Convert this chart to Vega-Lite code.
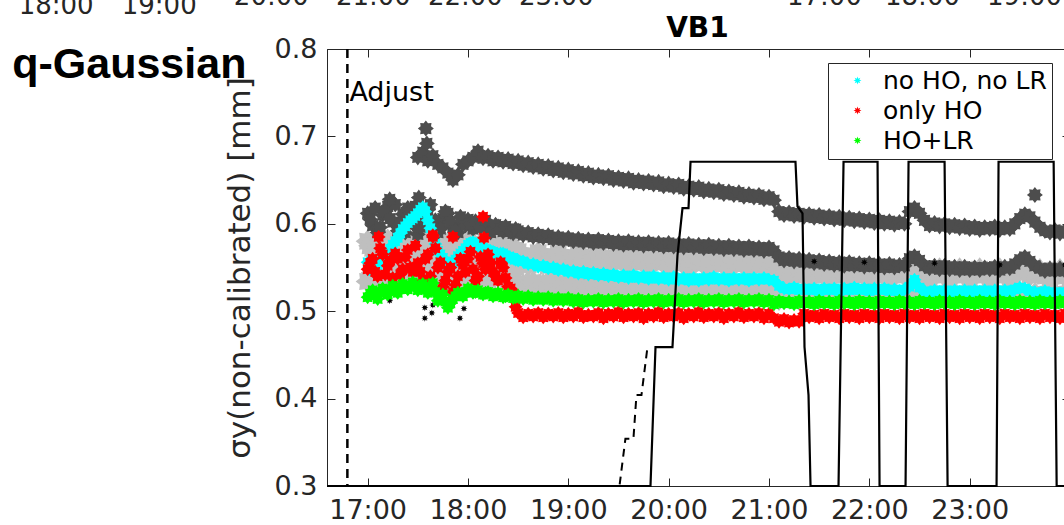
{
 "$schema": "https://vega.github.io/schema/vega-lite/v6.json",
 "width": 743,
 "height": 437,
 "autosize": {"type": "none"},
 "padding": {"left": 327, "top": 49, "right": 0, "bottom": 39},
 "background": "white",
 "config": {"view": {"stroke": "#262626", "strokeWidth": 1}, "axis": {"grid": false}},
 "datasets": {
  "pts": [
   {"t":17.00,"a1":0.580,"a2":0.534,"b2":0.612,"s1":0.556,"s2":0.548,"s3":0.516},
   {"t":17.05,"a1":0.572,"a2":0.544,"b2":0.598,"s1":0.546,"s2":0.560,"s3":0.524},
   {"t":17.10,"a1":0.563,"a2":0.540,"b2":0.590,"s1":0.553,"s2":0.540,"s3":0.514},
   {"t":17.15,"a1":0.577,"a2":0.547,"b2":0.610,"s1":0.561,"s2":0.565,"s3":0.526},
   {"t":17.20,"a1":0.581,"a2":0.534,"b2":0.620,"s1":0.567,"s2":0.552,"s3":0.519},
   {"t":17.25,"a1":0.571,"a2":0.544,"b2":0.602,"s1":0.576,"s2":0.538,"s3":0.529},
   {"t":17.30,"a1":0.565,"a2":0.540,"b2":0.592,"s1":0.584,"s2":0.560,"s3":0.521},
   {"t":17.35,"a1":0.575,"a2":0.547,"b2":0.611,"s1":0.594,"s2":0.548,"s3":0.531},
   {"t":17.40,"a1":0.579,"a2":0.534,"b2":0.618,"s1":0.601,"s2":0.570,"s3":0.525},
   {"t":17.45,"a1":0.570,"a2":0.544,"b2":0.600,"s1":0.606,"s2":0.545,"s3":0.533},
   {"t":17.50,"a1":0.563,"a2":0.540,"b1":0.676,"b2":0.588,"s1":0.612,"s2":0.555,"s3":0.524},
   {"t":17.55,"a1":0.576,"a2":0.547,"b1":0.682,"b2":0.608,"s1":0.619,"s2":0.535,"s3":0.531},
   {"t":17.60,"a1":0.580,"a2":0.534,"b1":0.672,"b2":0.616,"s1":0.604,"s2":0.565,"s3":0.521},
   {"t":17.65,"a1":0.571,"a2":0.544,"b1":0.678,"b2":0.598,"s1":0.586,"s2":0.585,"s3":0.532},
   {"t":17.70,"a1":0.564,"a2":0.540,"b1":0.668,"b2":0.590,"s1":0.569,"s2":0.550,"s3":0.512},
   {"t":17.75,"a1":0.574,"a2":0.547,"b1":0.664,"b2":0.606,"s1":0.561,"s2":0.528,"s3":0.519},
   {"t":17.80,"a1":0.578,"a2":0.534,"b1":0.658,"b2":0.612,"s1":0.553,"s2":0.545,"s3":0.504},
   {"t":17.85,"a1":0.569,"a2":0.544,"b1":0.650,"b2":0.596,"s1":0.556,"s2":0.522,"s3":0.514},
   {"t":17.90,"a1":0.562,"a2":0.540,"b1":0.656,"b2":0.590,"s1":0.563,"s2":0.540,"s3":0.521},
   {"t":17.95,"a1":0.575,"a2":0.547,"b1":0.668,"b2":0.602,"s1":0.569,"s2":0.553,"s3":0.517},
   {"t":18.00,"a1":0.579,"a2":0.534,"b1":0.672,"b2":0.605,"s1":0.576,"s2":0.560,"s3":0.526},
   {"t":18.05,"a1":0.570,"a2":0.544,"b1":0.676,"b2":0.594,"s1":0.579,"s2":0.548,"s3":0.521},
   {"t":18.10,"a1":0.563,"a2":0.540,"b1":0.683,"b2":0.598,"s1":0.575,"s2":0.540,"s3":0.524},
   {"t":18.15,"a1":0.574,"a2":0.547,"b1":0.675,"b2":0.601,"s1":0.573,"s2":0.555,"s3":0.519},
   {"t":18.20,"a1":0.577,"a2":0.534,"b1":0.678,"b2":0.596,"s1":0.569,"s2":0.565,"s3":0.522},
   {"t":18.25,"a1":0.568,"a2":0.544,"b1":0.672,"b2":0.593,"s1":0.568,"s2":0.545,"s3":0.517},
   {"t":18.30,"a1":0.561,"a2":0.540,"b1":0.676,"b2":0.597,"s1":0.565,"s2":0.535,"s3":0.521},
   {"t":18.35,"a1":0.572,"a2":0.547,"b1":0.671,"b2":0.591,"s1":0.566,"s2":0.550,"s3":0.516},
   {"t":18.40,"a1":0.575,"a2":0.534,"b1":0.674,"b2":0.594,"s1":0.562,"s2":0.528,"s3":0.519},
   {"t":18.45,"a1":0.566,"a2":0.544,"b1":0.669,"b2":0.589,"s1":0.561,"s2":0.520,"s3":0.515},
   {"t":17.025,"a1":0.575,"b2":0.605,"s1":0.550,"s2":0.555,"s3":0.520},
   {"t":17.075,"a1":0.568,"b2":0.618,"s1":0.549,"s2":0.545,"s3":0.519},
   {"t":17.125,"a1":0.579,"b2":0.596,"s1":0.557,"s2":0.572,"s3":0.521},
   {"t":17.175,"a1":0.566,"b2":0.614,"s1":0.563,"s2":0.542,"s3":0.522},
   {"t":17.225,"a1":0.576,"b2":0.606,"s1":0.571,"s2":0.558,"s3":0.524},
   {"t":17.275,"a1":0.569,"b2":0.622,"s1":0.580,"s2":0.566,"s3":0.525},
   {"t":17.325,"a1":0.578,"b2":0.600,"s1":0.589,"s2":0.542,"s3":0.526},
   {"t":17.375,"a1":0.566,"b2":0.590,"s1":0.597,"s2":0.562,"s3":0.528},
   {"t":17.425,"a1":0.574,"b2":0.612,"s1":0.604,"s2":0.550,"s3":0.529},
   {"t":17.475,"a1":0.580,"b2":0.620,"s1":0.609,"s2":0.575,"s3":0.528},
   {"t":17.525,"a1":0.568,"b2":0.596,"s1":0.616,"s2":0.545,"s3":0.527},
   {"t":17.575,"a1":0.573,"b2":0.604,"s1":0.614,"s2":0.560,"s3":0.526},
   {"t":17.625,"a1":0.566,"b2":0.622,"s1":0.595,"s2":0.540,"s3":0.527},
   {"t":17.675,"a1":0.577,"b2":0.604,"s1":0.577,"s2":0.572,"s3":0.522},
   {"t":17.725,"a1":0.569,"b2":0.594,"s1":0.565,"s2":0.556,"s3":0.515},
   {"t":17.775,"a1":0.575,"b2":0.614,"s1":0.557,"s2":0.535,"s3":0.511},
   {"t":17.825,"a1":0.565,"b2":0.602,"s1":0.554,"s2":0.550,"s3":0.509},
   {"t":17.875,"a1":0.576,"b2":0.592,"s1":0.559,"s2":0.530,"s3":0.517},
   {"t":17.925,"a1":0.570,"b2":0.608,"s1":0.566,"s2":0.560,"s3":0.519},
   {"t":17.975,"a1":0.566,"b2":0.598,"s1":0.572,"s2":0.545,"s3":0.522},
   {"t":18.025,"a1":0.575,"b2":0.600,"s1":0.578,"s2":0.568,"s3":0.524},
   {"t":18.075,"a1":0.568,"b2":0.603,"s1":0.577,"s2":0.535,"s3":0.522},
   {"t":18.125,"a1":0.577,"b2":0.596,"s1":0.574,"s2":0.562,"s3":0.521},
   {"t":18.175,"a1":0.571,"b2":0.604,"s1":0.571,"s2":0.548,"s3":0.521},
   {"t":18.225,"a1":0.566,"b2":0.590,"s1":0.569,"s2":0.555,"s3":0.520},
   {"t":18.275,"a1":0.574,"b2":0.599,"s1":0.566,"s2":0.540,"s3":0.519},
   {"t":18.325,"a1":0.569,"b2":0.594,"s1":0.566,"s2":0.556,"s3":0.518},
   {"t":18.375,"a1":0.576,"b2":0.597,"s1":0.564,"s2":0.538,"s3":0.517},
   {"t":18.425,"a1":0.567,"b2":0.591,"s1":0.561,"s2":0.526,"s3":0.517},
   {"t":18.475,"a1":0.570,"b2":0.594,"s1":0.559,"s2":0.505,"s3":0.516},
   {"t":18.50,"a1":0.568,"a2":0.522,"b1":0.672,"b2":0.592,"s1":0.558,"s2":0.498,"s3":0.518},
   {"t":18.55,"a1":0.560,"a2":0.530,"b1":0.667,"b2":0.587,"s1":0.557,"s2":0.493,"s3":0.514},
   {"t":18.60,"a1":0.553,"a2":0.527,"b1":0.670,"b2":0.590,"s1":0.554,"s2":0.497,"s3":0.517},
   {"t":18.65,"a1":0.564,"a2":0.533,"b1":0.665,"b2":0.585,"s1":0.554,"s2":0.494,"s3":0.513},
   {"t":18.70,"a1":0.567,"a2":0.522,"b1":0.668,"b2":0.588,"s1":0.551,"s2":0.498,"s3":0.516},
   {"t":18.75,"a1":0.559,"a2":0.530,"b1":0.663,"b2":0.584,"s1":0.552,"s2":0.493,"s3":0.513},
   {"t":18.80,"a1":0.552,"a2":0.527,"b1":0.666,"b2":0.587,"s1":0.549,"s2":0.497,"s3":0.516},
   {"t":18.85,"a1":0.563,"a2":0.533,"b1":0.661,"b2":0.582,"s1":0.550,"s2":0.494,"s3":0.512},
   {"t":18.90,"a1":0.566,"a2":0.522,"b1":0.664,"b2":0.585,"s1":0.547,"s2":0.498,"s3":0.515},
   {"t":18.95,"a1":0.558,"a2":0.530,"b1":0.659,"b2":0.581,"s1":0.548,"s2":0.493,"s3":0.512},
   {"t":19.00,"a1":0.551,"a2":0.527,"b1":0.662,"b2":0.584,"s1":0.545,"s2":0.497,"s3":0.515},
   {"t":19.05,"a1":0.562,"a2":0.533,"b1":0.657,"b2":0.580,"s1":0.546,"s2":0.494,"s3":0.511},
   {"t":19.10,"a1":0.566,"a2":0.522,"b1":0.660,"b2":0.583,"s1":0.543,"s2":0.499,"s3":0.514},
   {"t":19.15,"a1":0.558,"a2":0.530,"b1":0.655,"b2":0.579,"s1":0.545,"s2":0.493,"s3":0.510},
   {"t":19.20,"a1":0.551,"a2":0.527,"b1":0.658,"b2":0.582,"s1":0.542,"s2":0.496,"s3":0.513},
   {"t":19.25,"a1":0.562,"a2":0.533,"b1":0.653,"b2":0.578,"s1":0.544,"s2":0.494,"s3":0.511},
   {"t":19.30,"a1":0.565,"a2":0.522,"b1":0.656,"b2":0.582,"s1":0.541,"s2":0.498,"s3":0.514},
   {"t":19.35,"a1":0.557,"a2":0.530,"b1":0.652,"b2":0.578,"s1":0.543,"s2":0.492,"s3":0.510},
   {"t":19.40,"a1":0.550,"a2":0.527,"b1":0.655,"b2":0.581,"s1":0.540,"s2":0.497,"s3":0.513},
   {"t":19.45,"a1":0.561,"a2":0.533,"b1":0.650,"b2":0.577,"s1":0.542,"s2":0.494,"s3":0.511},
   {"t":19.50,"a1":0.565,"a2":0.522,"b1":0.653,"b2":0.580,"s1":0.539,"s2":0.499,"s3":0.514},
   {"t":19.55,"a1":0.557,"a2":0.530,"b1":0.649,"b2":0.576,"s1":0.541,"s2":0.493,"s3":0.510},
   {"t":19.60,"a1":0.550,"a2":0.527,"b1":0.652,"b2":0.580,"s1":0.538,"s2":0.497,"s3":0.513},
   {"t":19.65,"a1":0.561,"a2":0.533,"b1":0.647,"b2":0.576,"s1":0.541,"s2":0.494,"s3":0.511},
   {"t":19.70,"a1":0.564,"a2":0.522,"b1":0.650,"b2":0.579,"s1":0.538,"s2":0.498,"s3":0.514},
   {"t":19.75,"a1":0.556,"a2":0.530,"b1":0.646,"b2":0.575,"s1":0.540,"s2":0.492,"s3":0.510},
   {"t":19.80,"a1":0.549,"a2":0.527,"b1":0.649,"b2":0.579,"s1":0.537,"s2":0.497,"s3":0.513},
   {"t":19.85,"a1":0.560,"a2":0.533,"b1":0.645,"b2":0.575,"s1":0.540,"s2":0.494,"s3":0.511},
   {"t":19.90,"a1":0.564,"a2":0.522,"b1":0.648,"b2":0.578,"s1":0.537,"s2":0.499,"s3":0.514},
   {"t":19.95,"a1":0.556,"a2":0.530,"b1":0.643,"b2":0.574,"s1":0.539,"s2":0.493,"s3":0.510},
   {"t":20.00,"a1":0.549,"a2":0.527,"b1":0.646,"b2":0.578,"s1":0.536,"s2":0.497,"s3":0.513},
   {"t":20.05,"a1":0.560,"a2":0.533,"b1":0.642,"b2":0.574,"s1":0.539,"s2":0.494,"s3":0.511},
   {"t":20.10,"a1":0.563,"a2":0.522,"b1":0.645,"b2":0.577,"s1":0.536,"s2":0.498,"s3":0.514},
   {"t":20.15,"a1":0.555,"a2":0.530,"b1":0.640,"b2":0.573,"s1":0.538,"s2":0.492,"s3":0.510},
   {"t":20.20,"a1":0.548,"a2":0.527,"b1":0.643,"b2":0.577,"s1":0.535,"s2":0.497,"s3":0.513},
   {"t":20.25,"a1":0.559,"a2":0.533,"b1":0.639,"b2":0.573,"s1":0.538,"s2":0.494,"s3":0.511},
   {"t":20.30,"a1":0.563,"a2":0.522,"b1":0.642,"b2":0.576,"s1":0.535,"s2":0.499,"s3":0.514},
   {"t":20.35,"a1":0.555,"a2":0.530,"b1":0.637,"b2":0.572,"s1":0.538,"s2":0.493,"s3":0.510},
   {"t":20.40,"a1":0.548,"a2":0.527,"b1":0.640,"b2":0.576,"s1":0.536,"s2":0.497,"s3":0.513},
   {"t":20.45,"a1":0.559,"a2":0.533,"b1":0.636,"b2":0.572,"s1":0.539,"s2":0.494,"s3":0.511},
   {"t":20.50,"a1":0.562,"a2":0.522,"b1":0.639,"b2":0.575,"s1":0.536,"s2":0.498,"s3":0.514},
   {"t":20.55,"a1":0.554,"a2":0.530,"b1":0.634,"b2":0.571,"s1":0.538,"s2":0.492,"s3":0.510},
   {"t":20.60,"a1":0.547,"a2":0.527,"b1":0.637,"b2":0.575,"s1":0.535,"s2":0.497,"s3":0.513},
   {"t":20.65,"a1":0.558,"a2":0.533,"b1":0.633,"b2":0.571,"s1":0.538,"s2":0.494,"s3":0.511},
   {"t":20.70,"a1":0.562,"a2":0.522,"b1":0.636,"b2":0.574,"s1":0.536,"s2":0.499,"s3":0.514},
   {"t":20.75,"a1":0.554,"a2":0.530,"b1":0.631,"b2":0.570,"s1":0.538,"s2":0.493,"s3":0.510},
   {"t":20.80,"a1":0.547,"a2":0.527,"b1":0.634,"b2":0.574,"s1":0.535,"s2":0.497,"s3":0.513},
   {"t":20.85,"a1":0.558,"a2":0.533,"b1":0.630,"b2":0.570,"s1":0.538,"s2":0.494,"s3":0.511},
   {"t":20.90,"a1":0.561,"a2":0.522,"b1":0.633,"b2":0.573,"s1":0.536,"s2":0.498,"s3":0.514},
   {"t":20.95,"a1":0.553,"a2":0.530,"b1":0.628,"b2":0.569,"s1":0.538,"s2":0.492,"s3":0.510},
   {"t":21.00,"a1":0.546,"a2":0.527,"b1":0.631,"b2":0.573,"s1":0.536,"s2":0.497,"s3":0.513},
   {"t":21.05,"a1":0.557,"a2":0.533,"b1":0.627,"b2":0.569,"s1":0.535,"s2":0.492,"s3":0.508},
   {"t":21.10,"a1":0.548,"a2":0.514,"b1":0.614,"b2":0.562,"s1":0.529,"s2":0.488,"s3":0.512},
   {"t":21.15,"a1":0.541,"a2":0.519,"b1":0.610,"b2":0.558,"s1":0.526,"s2":0.491,"s3":0.509},
   {"t":21.20,"a1":0.535,"a2":0.516,"b1":0.613,"b2":0.561,"s1":0.525,"s2":0.487,"s3":0.511},
   {"t":21.25,"a1":0.545,"a2":0.520,"b1":0.609,"b2":0.557,"s1":0.527,"s2":0.490,"s3":0.508},
   {"t":21.30,"a1":0.548,"a2":0.514,"b1":0.612,"b2":0.560,"s1":0.524,"s2":0.488,"s3":0.512},
   {"t":21.35,"a1":0.541,"a2":0.519,"b1":0.608,"b2":0.556,"s1":0.526,"s2":0.497,"s3":0.509},
   {"t":21.40,"a1":0.535,"a2":0.516,"b1":0.611,"b2":0.559,"s1":0.524,"s2":0.493,"s3":0.511},
   {"t":21.45,"a1":0.545,"a2":0.520,"b1":0.607,"b2":0.555,"s1":0.526,"s2":0.496,"s3":0.508},
   {"t":21.50,"a1":0.548,"a2":0.514,"b1":0.610,"b2":0.558,"s1":0.523,"s2":0.492,"s3":0.512},
   {"t":21.55,"a1":0.541,"a2":0.519,"b1":0.606,"b2":0.554,"s1":0.526,"s2":0.497,"s3":0.509},
   {"t":21.60,"a1":0.535,"a2":0.516,"b1":0.609,"b2":0.557,"s1":0.524,"s2":0.493,"s3":0.511},
   {"t":21.65,"a1":0.545,"a2":0.520,"b1":0.605,"b2":0.553,"s1":0.526,"s2":0.496,"s3":0.508},
   {"t":21.70,"a1":0.548,"a2":0.514,"b1":0.608,"b2":0.556,"s1":0.523,"s2":0.492,"s3":0.512},
   {"t":21.75,"a1":0.541,"a2":0.519,"b1":0.604,"b2":0.552,"s1":0.526,"s2":0.497,"s3":0.509},
   {"t":21.80,"a1":0.535,"a2":0.516,"b1":0.607,"b2":0.556,"s1":0.524,"s2":0.493,"s3":0.511},
   {"t":21.85,"a1":0.545,"a2":0.520,"b1":0.603,"b2":0.552,"s1":0.527,"s2":0.496,"s3":0.508},
   {"t":21.90,"a1":0.548,"a2":0.514,"b1":0.606,"b2":0.555,"s1":0.524,"s2":0.492,"s3":0.512},
   {"t":21.95,"a1":0.541,"a2":0.519,"b1":0.602,"b2":0.551,"s1":0.526,"s2":0.497,"s3":0.509},
   {"t":22.00,"a1":0.535,"a2":0.516,"b1":0.605,"b2":0.555,"s1":0.523,"s2":0.493,"s3":0.511},
   {"t":22.05,"a1":0.545,"a2":0.520,"b1":0.601,"b2":0.551,"s1":0.526,"s2":0.496,"s3":0.508},
   {"t":22.10,"a1":0.548,"a2":0.514,"b1":0.604,"b2":0.554,"s1":0.524,"s2":0.492,"s3":0.512},
   {"t":22.15,"a1":0.541,"a2":0.519,"b1":0.600,"b2":0.550,"s1":0.526,"s2":0.497,"s3":0.509},
   {"t":22.20,"a1":0.535,"a2":0.516,"b1":0.603,"b2":0.554,"s1":0.523,"s2":0.493,"s3":0.511},
   {"t":22.25,"a1":0.545,"a2":0.520,"b1":0.599,"b2":0.550,"s1":0.525,"s2":0.496,"s3":0.508},
   {"t":22.30,"a1":0.548,"a2":0.514,"b1":0.602,"b2":0.553,"s1":0.523,"s2":0.492,"s3":0.512},
   {"t":22.35,"a1":0.541,"a2":0.519,"b1":0.600,"b2":0.552,"s1":0.525,"s2":0.497,"s3":0.509},
   {"t":22.40,"a1":0.547,"a2":0.516,"b1":0.614,"b2":0.560,"s1":0.528,"s2":0.493,"s3":0.511},
   {"t":22.45,"a1":0.550,"a2":0.520,"b1":0.618,"b2":0.563,"s1":0.536,"s2":0.496,"s3":0.508},
   {"t":22.50,"a1":0.548,"a2":0.514,"b1":0.612,"b2":0.558,"s1":0.527,"s2":0.492,"s3":0.512},
   {"t":22.55,"a1":0.541,"a2":0.519,"b1":0.604,"b2":0.552,"s1":0.523,"s2":0.497,"s3":0.509},
   {"t":22.60,"a1":0.535,"a2":0.516,"b1":0.598,"b2":0.549,"s1":0.521,"s2":0.493,"s3":0.511},
   {"t":22.65,"a1":0.545,"a2":0.520,"b1":0.601,"b2":0.552,"s1":0.524,"s2":0.496,"s3":0.508},
   {"t":22.70,"a1":0.548,"a2":0.514,"b1":0.597,"b2":0.548,"s1":0.522,"s2":0.492,"s3":0.512},
   {"t":22.75,"a1":0.541,"a2":0.519,"b1":0.600,"b2":0.552,"s1":0.524,"s2":0.497,"s3":0.509},
   {"t":22.80,"a1":0.535,"a2":0.516,"b1":0.596,"b2":0.548,"s1":0.521,"s2":0.493,"s3":0.511},
   {"t":22.85,"a1":0.545,"a2":0.520,"b1":0.599,"b2":0.551,"s1":0.524,"s2":0.496,"s3":0.508},
   {"t":22.90,"a1":0.548,"a2":0.514,"b1":0.595,"b2":0.547,"s1":0.522,"s2":0.492,"s3":0.512},
   {"t":22.95,"a1":0.541,"a2":0.519,"b1":0.598,"b2":0.551,"s1":0.524,"s2":0.497,"s3":0.509},
   {"t":23.00,"a1":0.535,"a2":0.516,"b1":0.594,"b2":0.547,"s1":0.521,"s2":0.493,"s3":0.511},
   {"t":23.05,"a1":0.545,"a2":0.520,"b1":0.597,"b2":0.550,"s1":0.524,"s2":0.496,"s3":0.508},
   {"t":23.10,"a1":0.548,"a2":0.514,"b1":0.593,"b2":0.547,"s1":0.522,"s2":0.492,"s3":0.512},
   {"t":23.15,"a1":0.541,"a2":0.519,"b1":0.596,"b2":0.550,"s1":0.524,"s2":0.497,"s3":0.509},
   {"t":23.20,"a1":0.535,"a2":0.516,"b1":0.594,"b2":0.548,"s1":0.521,"s2":0.493,"s3":0.511},
   {"t":23.25,"a1":0.545,"a2":0.520,"b1":0.597,"b2":0.551,"s1":0.524,"s2":0.496,"s3":0.508},
   {"t":23.30,"a1":0.548,"a2":0.514,"b1":0.593,"b2":0.547,"s1":0.522,"s2":0.492,"s3":0.512},
   {"t":23.35,"a1":0.541,"a2":0.519,"b1":0.596,"b2":0.551,"s1":0.524,"s2":0.497,"s3":0.509},
   {"t":23.40,"a1":0.535,"a2":0.516,"b1":0.594,"b2":0.549,"s1":0.522,"s2":0.493,"s3":0.511},
   {"t":23.45,"a1":0.545,"a2":0.520,"b1":0.600,"b2":0.554,"s1":0.525,"s2":0.496,"s3":0.508},
   {"t":23.50,"a1":0.550,"a2":0.514,"b1":0.606,"b2":0.559,"s1":0.527,"s2":0.492,"s3":0.512},
   {"t":23.55,"a1":0.548,"a2":0.519,"b1":0.611,"b2":0.562,"s1":0.526,"s2":0.497,"s3":0.509},
   {"t":23.60,"a1":0.541,"a2":0.516,"b1":0.608,"b2":0.557,"s1":0.523,"s2":0.493,"s3":0.511},
   {"t":23.65,"a1":0.545,"a2":0.520,"b1":0.602,"b2":0.552,"s1":0.522,"s2":0.496,"s3":0.508},
   {"t":23.70,"a1":0.547,"a2":0.514,"b1":0.596,"b2":0.549,"s1":0.520,"s2":0.492,"s3":0.512},
   {"t":23.75,"a1":0.540,"a2":0.519,"b1":0.592,"b2":0.546,"s1":0.523,"s2":0.497,"s3":0.509},
   {"t":23.80,"a1":0.534,"a2":0.516,"b1":0.590,"b2":0.549,"s1":0.520,"s2":0.493,"s3":0.511},
   {"t":23.85,"a1":0.544,"a2":0.520,"b1":0.593,"b2":0.546,"s1":0.522,"s2":0.496,"s3":0.508},
   {"t":23.90,"a1":0.547,"a2":0.514,"b1":0.589,"b2":0.549,"s1":0.520,"s2":0.492,"s3":0.512},
   {"t":23.95,"a1":0.540,"a2":0.519,"b1":0.592,"b2":0.546,"s1":0.522,"s2":0.497,"s3":0.509},
   {"t":24.00,"a1":0.534,"a2":0.516,"b1":0.590,"b2":0.548,"s1":0.520,"s2":0.493,"s3":0.511},
   {"t":17.11,"s2":0.585},{"t":17.65,"s2":0.587},{"t":17.85,"s2":0.585},{"t":18.15,"s2":0.608},{"t":18.16,"s2":0.584},
   {"t":17.58,"b1":0.709},{"t":17.59,"b1":0.692},{"t":17.51,"b2":0.630},{"t":17.22,"b2":0.628},{"t":23.65,"b1":0.633},
   {"t":16.99,"c":0.515},{"t":17.22,"c":0.512},{"t":17.57,"c":0.504},{"t":17.57,"c":0.492},{"t":17.65,"c":0.507},{"t":17.64,"c":0.498},{"t":17.92,"c":0.492},{"t":17.96,"c":0.503},
   {"t":21.45,"c":0.557},{"t":21.95,"c":0.556},{"t":22.65,"c":0.555},{"t":23.30,"c":0.553},{"t":23.95,"c":0.553}
  ],
  "stepline": [
   {"t":16.595,"v":0.3},{"t":19.819,"v":0.3},{"t":19.869,"v":0.459},{"t":20.038,"v":0.459},{"t":20.088,"v":0.564},{"t":20.138,"v":0.618},{"t":20.198,"v":0.618},{"t":20.218,"v":0.671},
   {"t":21.264,"v":0.671},{"t":21.284,"v":0.620},{"t":21.334,"v":0.612},{"t":21.354,"v":0.459},{"t":21.394,"v":0.404},{"t":21.414,"v":0.3},
   {"t":21.693,"v":0.3},{"t":21.743,"v":0.671},{"t":22.082,"v":0.671},{"t":22.102,"v":0.3},{"t":22.361,"v":0.3},{"t":22.391,"v":0.671},{"t":22.750,"v":0.671},{"t":22.780,"v":0.3},
   {"t":23.268,"v":0.3},{"t":23.288,"v":0.671},{"t":23.837,"v":0.671},{"t":23.867,"v":0.3},{"t":24.0,"v":0.3}
  ],
  "dashline": [
   {"t":16.595,"v":0.3},{"t":19.510,"v":0.3},{"t":19.569,"v":0.354},{"t":19.649,"v":0.354},{"t":19.679,"v":0.404},{"t":19.729,"v":0.404},{"t":19.789,"v":0.459}
  ],
  "frag": [
   {"t":13.896,"v":0.840,"label":"18:00"},{"t":14.923,"v":0.840,"label":"19:00"},
   {"t":16.040,"v":0.850,"label":"20:00"},{"t":17.057,"v":0.850,"label":"21:00"},{"t":17.974,"v":0.850,"label":"22:00"},{"t":18.881,"v":0.850,"label":"23:00"},
   {"t":21.553,"v":0.850,"label":"17:00"},{"t":22.530,"v":0.850,"label":"18:00"},{"t":23.547,"v":0.850,"label":"19:00"}
  ],
  "notes": [
   {"t":16.818,"v":0.7497,"label":"Adjust"}
  ],
  "headings": [
   {"t":13.458,"v":0.7668,"label":"q-Gaussian"}
  ],
  "paneltitle": [
   {"t":20.287,"v":0.8137,"label":"VB1"}
  ],
  "adjust": [
   {"t":16.798}
  ]
 },
 "layer": [
  {
   "data": {"name": "pts"},
   "transform": [{"fold": ["a1","a2"], "as": ["key","v"]}],
   "mark": {"type": "point", "shape": "M1,0L0.65,0.27L0.707,0.707L0.27,0.65L0,1L-0.27,0.65L-0.707,0.707L-0.65,0.27L-1,0L-0.65,-0.27L-0.707,-0.707L-0.27,-0.65L0,-1L0.27,-0.65L0.707,-0.707L0.65,-0.27Z", "filled": true, "opacity": 1, "size": 576, "color": "#bfbfbf"},
   "encoding": {
    "x": {"field": "t", "type": "quantitative", "scale": {"domain": [16.595, 24], "nice": false, "zero": false},
     "axis": {"orient": "bottom", "values": [17,18,19,20,21,22,23], "labelExpr": "datum.value + ':00'", "tickSize": -8, "tickColor": "#262626", "domainColor": "#262626", "labelFont": "DejaVu Sans", "labelFontSize": 27, "labelColor": "#262626", "labelPadding": 19, "labelFlush": false, "labelOverlap": false, "title": null, "grid": false}},
    "y": {"field": "v", "type": "quantitative", "scale": {"domain": [0.3, 0.8], "nice": false, "zero": false},
     "axis": {"orient": "left", "values": [0.3,0.4,0.5,0.6,0.7,0.8], "format": ".1f", "tickSize": -8, "tickColor": "#262626", "domainColor": "#262626", "labelFont": "DejaVu Sans", "labelFontSize": 27, "labelColor": "#262626", "labelPadding": 18, "labelOverlap": false, "grid": false,
      "title": "σy(non-calibrated) [mm]", "titleFont": "DejaVu Sans", "titleFontSize": 31, "titleFontWeight": "normal", "titleColor": "#262626", "titlePadding": 18}}
   }
  },
  {
   "data": {"name": "pts"},
   "transform": [{"fold": ["b1","b2"], "as": ["key","v"]}],
   "mark": {"type": "point", "shape": "M1,0L0.65,0.27L0.707,0.707L0.27,0.65L0,1L-0.27,0.65L-0.707,0.707L-0.65,0.27L-1,0L-0.65,-0.27L-0.707,-0.707L-0.27,-0.65L0,-1L0.27,-0.65L0.707,-0.707L0.65,-0.27Z", "filled": true, "opacity": 1, "size": 256, "color": "#4d4d4d"},
   "encoding": {
    "x": {"field": "t", "type": "quantitative", "scale": {"domain": [16.595, 24], "nice": false, "zero": false}, "axis": null},
    "y": {"field": "v", "type": "quantitative", "scale": {"domain": [0.3, 0.8], "nice": false, "zero": false}, "axis": null}
   }
  },
  {
   "data": {"name": "pts"},
   "transform": [{"fold": ["c"], "as": ["key","v"]}],
   "mark": {"type": "point", "shape": "M1,0L0.462,0.191L0.707,0.707L0.191,0.462L0,1L-0.191,0.462L-0.707,0.707L-0.462,0.191L-1,0L-0.462,-0.191L-0.707,-0.707L-0.191,-0.462L0,-1L0.191,-0.462L0.707,-0.707L0.462,-0.191Z", "filled": true, "opacity": 1, "size": 49, "color": "#000000"},
   "encoding": {
    "x": {"field": "t", "type": "quantitative", "scale": {"domain": [16.595, 24], "nice": false, "zero": false}, "axis": null},
    "y": {"field": "v", "type": "quantitative", "scale": {"domain": [0.3, 0.8], "nice": false, "zero": false}, "axis": null}
   }
  },
  {
   "data": {"name": "pts"},
   "transform": [{"fold": ["s1","s2","s3"], "as": ["key","v"]}],
   "mark": {"type": "point", "shape": "M1,0L0.65,0.27L0.707,0.707L0.27,0.65L0,1L-0.27,0.65L-0.707,0.707L-0.65,0.27L-1,0L-0.65,-0.27L-0.707,-0.707L-0.27,-0.65L0,-1L0.27,-0.65L0.707,-0.707L0.65,-0.27Z", "filled": true, "opacity": 1, "size": 196},
   "encoding": {
    "x": {"field": "t", "type": "quantitative", "scale": {"domain": [16.595, 24], "nice": false, "zero": false}, "axis": null},
    "y": {"field": "v", "type": "quantitative", "scale": {"domain": [0.3, 0.8], "nice": false, "zero": false}, "axis": null},
    "color": {"field": "key", "type": "nominal",
     "scale": {"domain": ["s1","s2","s3"], "range": ["#00ffff","#ff0000","#00ff00"]},
     "legend": {"orient": "none", "legendX": 501, "legendY": 14, "title": null,
      "labelExpr": "datum.value == 's1' ? 'no HO, no LR' : datum.value == 's2' ? 'only HO' : 'HO+LR'",
      "labelFont": "DejaVu Sans", "labelFontSize": 25, "labelColor": "#000000", "labelOffset": 13, "labelLimit": 400,
      "symbolType": "M1,0L0.462,0.191L0.707,0.707L0.191,0.462L0,1L-0.191,0.462L-0.707,0.707L-0.462,0.191L-1,0L-0.462,-0.191L-0.707,-0.707L-0.191,-0.462L0,-1L0.191,-0.462L0.707,-0.707L0.462,-0.191Z", "symbolSize": 64, "symbolOffset": 12,
      "strokeColor": "#262626", "fillColor": "#ffffff", "padding": 5, "rowPadding": 4, "cornerRadius": 0}},
    "order": {"field": "key", "type": "ordinal"}
   }
  },
  {
   "data": {"name": "stepline"},
   "mark": {"type": "line", "color": "#000000", "strokeWidth": 2.2},
   "encoding": {
    "x": {"field": "t", "type": "quantitative", "scale": {"domain": [16.595, 24], "nice": false, "zero": false},
     "axis": {"orient": "top", "values": [17,18,19,20,21,22,23], "labels": false, "tickSize": -8, "tickColor": "#262626", "domain": false, "title": null, "grid": false}},
    "y": {"field": "v", "type": "quantitative", "scale": {"domain": [0.3, 0.8], "nice": false, "zero": false},
     "axis": {"orient": "right", "values": [0.3,0.4,0.5,0.6,0.7,0.8], "labels": false, "tickSize": -8, "tickColor": "#262626", "domain": false, "title": null, "grid": false}}
   }
  },
  {
   "data": {"name": "dashline"},
   "mark": {"type": "line", "color": "#000000", "strokeWidth": 2, "strokeDash": [8, 6]},
   "encoding": {
    "x": {"field": "t", "type": "quantitative", "scale": {"domain": [16.595, 24], "nice": false, "zero": false}, "axis": null},
    "y": {"field": "v", "type": "quantitative", "scale": {"domain": [0.3, 0.8], "nice": false, "zero": false}, "axis": null}
   }
  },
  {
   "data": {"name": "adjust"},
   "mark": {"type": "rule", "color": "#000000", "strokeWidth": 2.5, "strokeDash": [9, 6]},
   "encoding": {
    "x": {"field": "t", "type": "quantitative", "scale": {"domain": [16.595, 24], "nice": false, "zero": false}, "axis": null}
   }
  },
  {
   "data": {"name": "notes"},
   "mark": {"type": "text", "align": "left", "baseline": "middle", "font": "DejaVu Sans", "fontSize": 27, "color": "#000000"},
   "encoding": {
    "x": {"field": "t", "type": "quantitative", "scale": {"domain": [16.595, 24], "nice": false, "zero": false}, "axis": null},
    "y": {"field": "v", "type": "quantitative", "scale": {"domain": [0.3, 0.8], "nice": false, "zero": false}, "axis": null},
    "text": {"field": "label", "type": "nominal"}
   }
  },
  {
   "data": {"name": "headings"},
   "mark": {"type": "text", "align": "left", "baseline": "alphabetic", "font": "Liberation Sans", "fontSize": 43, "fontWeight": "bold", "color": "#000000"},
   "encoding": {
    "x": {"field": "t", "type": "quantitative", "scale": {"domain": [16.595, 24], "nice": false, "zero": false}, "axis": null},
    "y": {"field": "v", "type": "quantitative", "scale": {"domain": [0.3, 0.8], "nice": false, "zero": false}, "axis": null},
    "text": {"field": "label", "type": "nominal"}
   }
  },
  {
   "data": {"name": "paneltitle"},
   "mark": {"type": "text", "align": "center", "baseline": "alphabetic", "font": "DejaVu Sans", "fontSize": 28, "fontWeight": "bold", "color": "#000000"},
   "encoding": {
    "x": {"field": "t", "type": "quantitative", "scale": {"domain": [16.595, 24], "nice": false, "zero": false}, "axis": null},
    "y": {"field": "v", "type": "quantitative", "scale": {"domain": [0.3, 0.8], "nice": false, "zero": false}, "axis": null},
    "text": {"field": "label", "type": "nominal"}
   }
  },
  {
   "data": {"name": "frag"},
   "mark": {"type": "text", "align": "center", "baseline": "alphabetic", "font": "DejaVu Sans", "fontSize": 26, "color": "#262626"},
   "encoding": {
    "x": {"field": "t", "type": "quantitative", "scale": {"domain": [16.595, 24], "nice": false, "zero": false}, "axis": null},
    "y": {"field": "v", "type": "quantitative", "scale": {"domain": [0.3, 0.8], "nice": false, "zero": false}, "axis": null},
    "text": {"field": "label", "type": "nominal"}
   }
  }
 ],
 "resolve": {"axis": {"x": "independent", "y": "independent"}}
}
